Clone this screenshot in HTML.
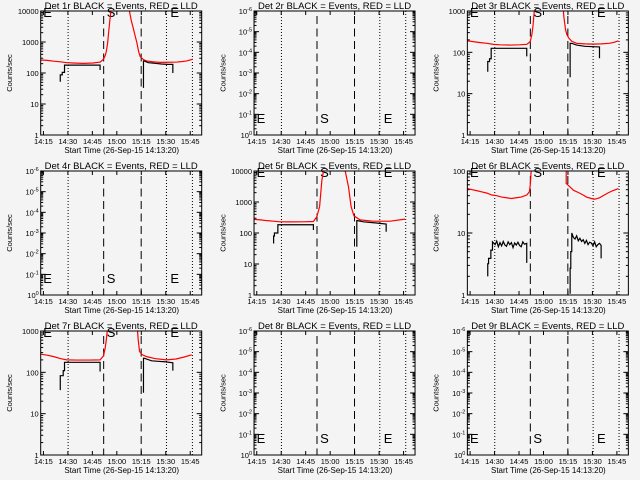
<!DOCTYPE html>
<html><head><meta charset="utf-8"><style>
html,body{margin:0;padding:0;background:#f4f4f4;}
svg{display:block;font-family:"Liberation Sans",sans-serif;}
</style></head><body>
<svg id="chart" width="640" height="480" viewBox="0 0 640 480" xmlns="http://www.w3.org/2000/svg">
<rect x="0" y="0" width="640" height="480" fill="#f4f4f4"/>
</svg>
<script>
// time axis in minutes since 14:13:20
const tickLabels = ["14:15","14:30","14:45","15:00","15:15","15:30","15:45"];
const tickMinutes = [1.67,16.67,31.67,46.67,61.67,76.67,91.67];
const dottedMinutes = [16.8,77.1,93];
const dashedMinutes = [38.6,61.6];
const markerMinutes = [1.6,40.5,79.5];
const markerLetters = ["E","S","E"];
const panelTitles = ["Det 1r","Det 2r","Det 3r","Det 4r","Det 5r","Det 6r","Det 7r","Det 8r","Det 9r"];
const panelYMaxExp = [4,6,3,6,4,2,3,6,6];
const panelHasData = [true,false,true,false,true,true,true,false,false];

const p1RedT=[0,4,8,12,16,20,26,32,36.5,38.5,39.5,40.2,41,41.6,42.3,43,44,48,52,54.4,55.5,57,58,59,60,61,63,65,69,73.2,78,83.5,87,89.5,93.3];
const p1RedV=[263,255,240,230,215,210,205,210,225,280,360,490,900,1950,4500,9500,20000,60000,30000,10000,5000,2450,1500,930,500,335,270,245,228,220,222,225,235,245,280];
const p1BlkT=[12,12,13.2,13.2,14.6,14.6,36.4,36.4,null,63,63,63.4,66,70,74,78,81,81];
const p1BlkV=[52,87,87,105,105,180,180,125,null,33,245,245,215,205,195,190,190,100];

const p3RedT=[0,4,8,12,16,20,26,32,36.4,38.5,39.5,40.2,41.2,44,50,56,58.5,59.2,60.2,61,62.2,64,67,72,77,82,87,90,92.6];
const p3RedV=[190,180,172,165,156,152,150,152,156,180,260,420,1200,8000,30000,8000,1500,700,350,270,220,185,165,160,158,160,165,175,190];
const p3BlkT=[12.5,12.5,13.6,13.6,14.6,14.6,36.4,36.4,null,63,63,64,67,72,77,81,81];
const p3BlkV=[34,60,60,70,70,125,125,80,null,25,165,165,150,140,137,135,72];

const p5RedT=[0,4,8,12,16,22,30,36.4,38.5,40.2,41.6,42.6,46,52,55.9,57.9,59.5,61.3,65,73,83.5,92.6];
const p5RedV=[275,265,250,240,230,228,230,235,335,710,5100,10000,40000,30000,10000,3100,710,355,265,240,240,280];
const p5BlkT=[12,12,12.5,12.5,13.8,14.6,14.6,36.4,36.4,null,63,63,63.5,67,75,81,81];
const p5BlkV=[46,80,80,100,100,100,185,185,125,null,36,250,250,230,210,195,110];

const p6RedT=[0,3,6,9,12,15,18,21,24,27,30,33,36.4,38,38.6,39.1,40,50,60.6,60.6,63,65,68,71,73,76,78,81,84,86,89,92.6];
const p6RedV=[52,50,48,46,44,41,40,38,37,36,37,38,41,46,60,100,300,2000,2000,63,55,49,45,41,38,36,35,37,41,44,48,52];
const p6BlkT=[12.5,12.5,13,13,14.4,14.4,15.4,15.4,17,18,19,20,21,22,23,24,25,26,27,28,29,30,31,32,33,34,35,36.4,36.4,null,63,63,63.4,63.4,64,64,65,66,67,68,69,70,71,72,73,74,75,76,77,78,79,80,81,82,82];
const p6BlkV=[2,3.2,3.2,3.9,3.9,5.3,5.3,7.2,6.5,7.4,6,7,6.2,7.3,6.4,6.1,7.2,6.5,7,5.8,6.9,6.4,7.1,6.3,6,7.2,6.6,6.8,3.3,null,1.05,2.7,2.7,5,5,10,8.5,8,9,7.5,8.2,7.3,7.8,6.8,7.6,6.5,7.1,6.9,6.2,7.2,6,6.5,6.8,6.3,3.9];

const p7RedT=[0,4,8,12,16,22,30,36.4,38.5,39.5,40.2,41,44,50,56,59,59.8,60.6,62,65,70,77,83,88,92.6];
const p7RedV=[275,260,240,215,200,198,198,200,250,380,600,1200,8000,30000,8000,1500,600,320,270,240,215,200,210,235,265];
const p7BlkT=[12,12,13.8,13.8,14.6,14.6,36.4,36.4,null,63,63,63.4,68,72,76,81,81];
const p7BlkV=[37,83,83,110,110,175,175,105,null,32,220,220,190,185,180,170,110];

const redT={0:p1RedT,2:p3RedT,4:p5RedT,5:p6RedT,6:p7RedT};
const redV={0:p1RedV,2:p3RedV,4:p5RedV,5:p6RedV,6:p7RedV};
const blkT={0:p1BlkT,2:p3BlkT,4:p5BlkT,5:p6BlkT,6:p7BlkT};
const blkV={0:p1BlkV,2:p3BlkV,4:p5BlkV,5:p6BlkV,6:p7BlkV};

const NS="http://www.w3.org/2000/svg";
const svg=document.getElementById('chart');
const TMAX=98.7;
function mk(tag,attrs,parent){const e=document.createElementNS(NS,tag);for(const k in attrs)e.setAttribute(k,attrs[k]);(parent||svg).appendChild(e);return e;}

for(let p=0;p<9;p++){
  const col=p%3,row=Math.floor(p/3);
  const ox=col*213.33,oy=row*160;
  const L=ox+40.7,R=ox+201.7,T=oy+11,B=oy+135;
  const emax=panelYMaxExp[p];
  const xs=t=>L+(t/TMAX)*(R-L);
  const ys=v=>B-(Math.log10(v)/emax)*(B-T);
  const g=mk('g',{});
  
  
  const cp=mk('clipPath',{id:'clip'+p},g);
  mk('rect',{x:L,y:T,width:R-L,height:B-T},cp);
  // title
  const title=mk('text',{x:(L+R)/2,y:oy+9,'font-size':'9.5','text-anchor':'middle',fill:'#000'},g);
  title.textContent=panelTitles[p]+" BLACK = Events, RED = LLD";
  
  
  // y title
  const yt=mk('text',{x:0,y:0,'font-size':'7.5','text-anchor':'middle',transform:`translate(${ox+12},${(T+B)/2}) rotate(-90)`},g);
  yt.textContent="Counts/sec";
  
  
  // x title
  const xt=mk('text',{x:(L+R)/2+0.5,y:oy+153,'font-size':'8','text-anchor':'middle'},g);
  xt.textContent="Start Time (26-Sep-15 14:13:20)";
  
  
  // x ticks
  tickMinutes.forEach((m,i)=>{
    const x=xs(m);
    mk('line',{x1:x,x2:x,y1:B,y2:B-4,stroke:'#000','stroke-width':1},g);
    mk('line',{x1:x,x2:x,y1:T,y2:T+4,stroke:'#000','stroke-width':1},g);
    const tl=mk('text',{x:x,y:oy+144,'font-size':'7.5','text-anchor':'middle'},g);
    tl.textContent=tickLabels[i];
    
    
  });
  // y ticks
  for(let e=0;e<=emax;e++){
    const y=B-(e/emax)*(B-T);
    mk('line',{x1:L,x2:L+5,y1:y,y2:y,stroke:'#000'},g);
    mk('line',{x1:R,x2:R-5,y1:y,y2:y,stroke:'#000'},g);
    const lbl=mk('text',{x:L-2,y:y+3,'font-size':'7.5','text-anchor':'end'},g);
    
    
    if(panelHasData[p]){lbl.textContent=String(Math.pow(10,e));}
    else{
      lbl.textContent="10";
      const s=mk('tspan',{dy:'-3','font-size':'5.5'},lbl);
      s.textContent=e===0?"0":"-"+e;
    }
    if(e<emax){for(let k=2;k<=9;k++){
      const yy=B-((e+Math.log10(k))/emax)*(B-T);
      mk('line',{x1:L,x2:L+2.5,y1:yy,y2:yy,stroke:'#000'},g);
      mk('line',{x1:R,x2:R-2.5,y1:yy,y2:yy,stroke:'#000'},g);
    }}
  }
  // reference lines
  dottedMinutes.forEach(m=>{const l=mk('line',{x1:xs(m),x2:xs(m),y1:T,y2:B,stroke:'#000','stroke-width':1,'stroke-dasharray':'1 2'},g);
    
    });
  dashedMinutes.forEach(m=>{const l=mk('line',{x1:xs(m),x2:xs(m),y1:T+5,y2:B,stroke:'#000','stroke-width':1,'stroke-dasharray':'8 4.5'},g);
    
    });
  // markers
  markerMinutes.forEach((m,i)=>{
    const my=panelHasData[p]?oy+17:oy+123;
    const t=mk('text',{x:xs(m),y:my,'font-size':'13','text-anchor':'start'},g);
    t.textContent=markerLetters[i];
    
    
  });
  // data
  if(panelHasData[p]){
    const draw=(TA,VA,color,name)=>{
      let segs=[],cur=[];
      TA.forEach((t,i)=>{if(t===null){segs.push(cur);cur=[];}else cur.push(xs(t).toFixed(2)+','+ys(VA[i]).toFixed(2));});
      segs.push(cur);
      segs.forEach(s=>{if(s.length<2)return;
        const pl=mk('polyline',{points:s.join(' '),fill:'none',stroke:color,'stroke-width':1.2,'clip-path':`url(#clip${p})`},g);
        
        });
    };
    draw(redT[p],redV[p],'#ff0000','lld-series');
    draw(blkT[p],blkV[p],'#000000','events-series');
  }
  // frame
  const fr=mk('rect',{x:L,y:T,width:R-L,height:B-T,fill:'none',stroke:'#000','stroke-width':1},g);
  
  
}
</script>
</body></html>
